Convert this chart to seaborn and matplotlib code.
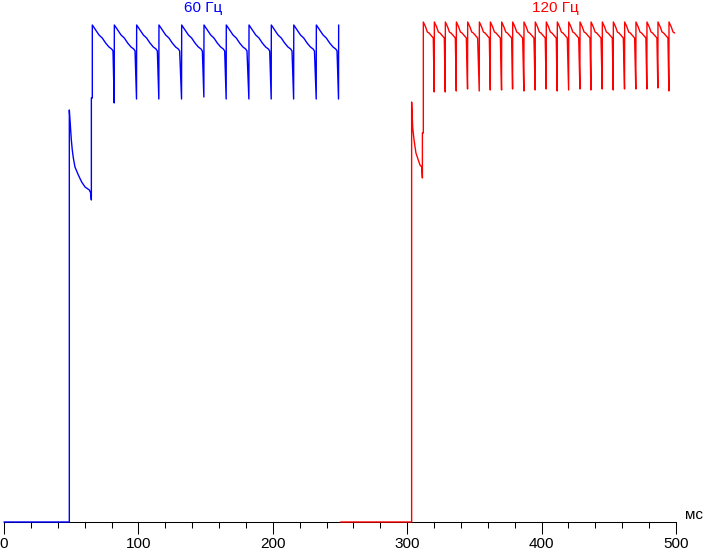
#!/usr/bin/env python3
"""Brightness vs time trace for 60 Hz and 120 Hz refresh (values read off the reference)."""

import matplotlib

matplotlib.use("Agg")
import matplotlib.pyplot as plt
import pandas as pd
import seaborn as sns

# --- 60 Hz trace (ms, relative level) ---
blue_lead_t = [0, 48.6, 48.6, 49.1, 50.1, 50.8, 51.6, 52.8, 55.3, 57.8, 60.3, 63.5, 64.5, 65.0, 65.0, 65.7]
blue_lead_h = [0, 0, 412, 402, 382, 372, 364, 355, 347, 340, 335, 332, 329, 322, 424, 424]
blue_starts = [65.7, 82.1, 98.7, 115.3, 132.2, 148.8, 165.4, 182.3, 198.9, 215.6, 232.4, 249.0]
blue_shape_dt = [0, 2.5, 5.0, 7.4, 9.9, 12.4, 14.4, 15.4]
blue_shape_h = [497, 492, 487, 484, 479, 475, 473, 471]
blue_dips = [419, 423, 423, 423, 425, 423, 423, 423, 423, 423, 423]
blue_stop = 249.0

# --- 120 Hz trace ---
red_lead_t = [250.5, 303.3, 303.3, 304.1, 305.1, 306.5, 308.3, 309.5, 310.8, 311.3, 311.3, 312.0]
red_lead_h = [0, 0, 420, 394, 382, 369, 362, 357, 355, 344, 389, 389]
red_starts = [312.0, 320.2, 328.4, 336.6, 345.0, 353.7, 361.9, 370.3, 378.5, 386.9, 395.3, 403.5,
              411.7, 420.2, 428.6, 436.8, 445.2, 453.4, 461.8, 470.2, 478.4, 486.6, 494.8]
red_shape_dt = [0, 1.7, 3.0, 4.2, 5.5, 6.7, 7.4]
red_shape_h = [500, 495, 490, 489, 487, 485, 484]
red_dips = [430, 430, 431, 433, 431, 432, 432, 433, 431, 432, 433, 431,
            432, 433, 432, 433, 432, 433, 433, 433, 434, 431]
red_stop = 499.7

x_ticks = [0, 100, 200, 300, 400, 500]
labels = ["60 Гц", "120 Гц"]


def assemble(lead_t, lead_h, starts, shape_dt, shape_h, dips, stop):
    t = list(lead_t)
    h = list(lead_h)
    for i, t0 in enumerate(starts):
        for dt, hv in zip(shape_dt, shape_h):
            if t0 + dt > stop:
                break
            t.append(t0 + dt)
            h.append(hv)
        if i < len(dips):
            t.append(starts[i + 1] - 0.1)
            h.append(dips[i])
    return pd.DataFrame({"t": t, "h": h})


def main() -> None:
    sns.set_theme(style="white")
    plt.rcParams["font.family"] = ["Liberation Sans", "DejaVu Sans"]

    blue = assemble(blue_lead_t, blue_lead_h, blue_starts, blue_shape_dt, blue_shape_h, blue_dips, blue_stop)
    red = assemble(red_lead_t, red_lead_h, red_starts, red_shape_dt, red_shape_h, red_dips, red_stop)

    fig = plt.figure(figsize=(7.03, 5.5), dpi=100)
    ax = fig.add_axes([4 / 703, 28 / 550, 672 / 703, 522 / 550])

    for df, color in [(blue, "#0000ff"), (red, "#ff0000")]:
        sns.lineplot(data=df, x="t", y="h", sort=False, estimator=None, color=color,
                     lw=1.0, ax=ax, clip_on=False, zorder=5)

    ax.set_xlim(0, 500)
    ax.set_ylim(0, 522)
    ax.set_xlabel("")
    ax.set_ylabel("")
    ax.set_yticks([])
    ax.set_xticks(x_ticks)
    ax.set_xticks(range(0, 501, 20), minor=True)
    ax.tick_params(axis="x", which="major", direction="out", length=8.6, width=0.75,
                   color="black", pad=2.0, labelsize=11, labelcolor="black", bottom=True)
    ax.tick_params(axis="x", which="minor", direction="out", length=4.3, width=0.75,
                   color="black", bottom=True)
    for side in ["left", "right", "top"]:
        ax.spines[side].set_visible(False)
    ax.spines["bottom"].set_color("black")
    ax.spines["bottom"].set_linewidth(0.75)

    ax.text(148, 514, labels[0], color="#0000ff", fontsize=11, ha="center", va="center")
    ax.text(410, 514, labels[1], color="#ff0000", fontsize=11, ha="center", va="center")
    ax.text(506.5, 0, "мс", color="black", fontsize=11, ha="left", va="bottom", clip_on=False)

    fig.savefig("out.png", dpi=100)
    plt.close(fig)


if __name__ == "__main__":
    main()
